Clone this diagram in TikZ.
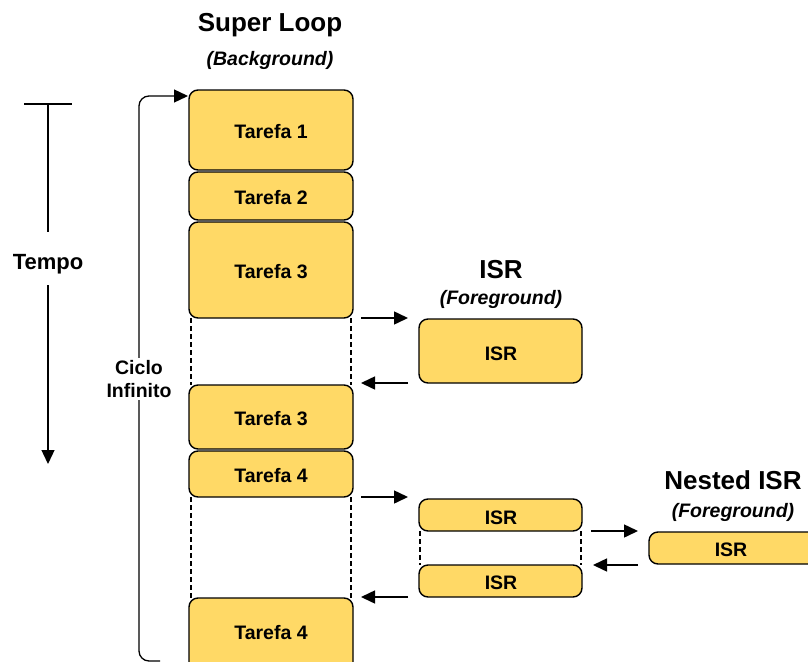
\documentclass[tikz,border=0pt]{standalone}
\usepackage{fontspec}
\setmainfont{Liberation Sans}
\usetikzlibrary{arrows.meta}
\definecolor{taskfill}{RGB}{255,217,102}
\tikzset{
  task/.style={draw=black, line width=1.4pt, fill=taskfill, rounded corners=9pt},
  tasktext/.style={font=\bfseries\fontsize{19.5}{22}\selectfont},
  flow/.style={-{Triangle[length=14pt,width=13pt]}, line width=1.5pt},
  gap/.style={line width=1.2pt, dash pattern=on 5pt off 3pt},
  head/.style={font=\bfseries\fontsize{26}{30}\selectfont},
  sub/.style={font=\bfseries\itshape\fontsize{19.5}{22}\selectfont},
  lbl/.style={font=\bfseries\fontsize{19.5}{23}\selectfont, align=center}
}
\begin{document}
\begin{tikzpicture}[x=1pt,y=-1pt]
\useasboundingbox (0,0) rectangle (808,661);
% Super loop tasks
\draw[task] (189,90) rectangle (353,170);
\draw[task] (189,172) rectangle (353,220);
\draw[task] (189,222) rectangle (353,318);
\draw[task] (189,385) rectangle (353,449);
\draw[task] (189,451) rectangle (353,497);
\draw[task] (189,598) rectangle (353,672);
\node[tasktext] (t1) at (271,132) {Tarefa 1};
\node[tasktext] (t2) at (271,198) {Tarefa 2};
\node[tasktext] (t3) at (271,272) {Tarefa 3};
\node[tasktext] (t3b) at (271,419) {Tarefa 3};
\node[tasktext] (t4) at (271,476) {Tarefa 4};
\node[tasktext] (t4b) at (271,633) {Tarefa 4};
% gaps while an interrupt runs
\draw[gap] (191,318) -- (191,385);
\draw[gap] (351,318) -- (351,385);
\draw[gap] (191,497) -- (191,598);
\draw[gap] (351,497) -- (351,598);
% ISR boxes
\draw[task] (419,319) rectangle (582,383);
\draw[task] (419,499) rectangle (582,531);
\draw[task] (419,565) rectangle (582,597);
\node[tasktext] (isr) at (501,354) {ISR};
\node[tasktext] (isra) at (501,518) {ISR};
\node[tasktext] (isrb) at (501,583) {ISR};
\draw[gap] (420,531) -- (420,565);
\draw[gap] (581,531) -- (581,565);
% nested ISR
\draw[task] (649,532) rectangle (820,564);
\node[tasktext] (nisr) at (731,550) {ISR};
% titles
\node[head] (hsl) at (270,25) {Super Loop};
\node[sub] (hbg) at (270,60) {(Background)};
\node[head] (hisr) at (501,270) {ISR};
\node[sub] (hfg) at (501,299) {(Foreground)};
\node[head] (hn) at (733,480) {Nested ISR};
\node[sub] (hnfg) at (733,512) {(Foreground)};
% transfer arrows
\coordinate (a1s) at (361,318); \coordinate (a1e) at (408,318);
\coordinate (a2s) at (408,383); \coordinate (a2e) at (361,383);
\coordinate (a3s) at (361,497); \coordinate (a3e) at (408,497);
\coordinate (a4s) at (408,597); \coordinate (a4e) at (361,597);
\coordinate (a5s) at (591,531); \coordinate (a5e) at (638,531);
\coordinate (a6s) at (638,565); \coordinate (a6e) at (593,565);
\draw[flow] (a1s) -- (a1e);
\draw[flow] (a2s) -- (a2e);
\draw[flow] (a3s) -- (a3e);
\draw[flow] (a4s) -- (a4e);
\draw[flow] (a5s) -- (a5e);
\draw[flow] (a6s) -- (a6e);
% infinite loop
\coordinate (lb) at (160,661);
\coordinate (lt) at (188,96);
\draw[flow, line width=1.3pt, rounded corners=10pt] (lb) -- (139,661) -- (139,96) -- (lt);
\node[lbl, fill=white, inner sep=2pt] (ciclo) at (139,379) {Ciclo\\Infinito};
% time axis
\coordinate (tt) at (48,104);
\coordinate (tb) at (48,464);
\draw[line width=1.3pt] (24,104) -- (72,104);
\node[lbl, font=\bfseries\fontsize{22}{26}\selectfont] (tempo) at (48,264) {Tempo};
\draw[line width=1.3pt] (tt) -- (48,232);
\draw[flow, line width=1.3pt] (48,285) -- (tb);
\end{tikzpicture}
\end{document}
